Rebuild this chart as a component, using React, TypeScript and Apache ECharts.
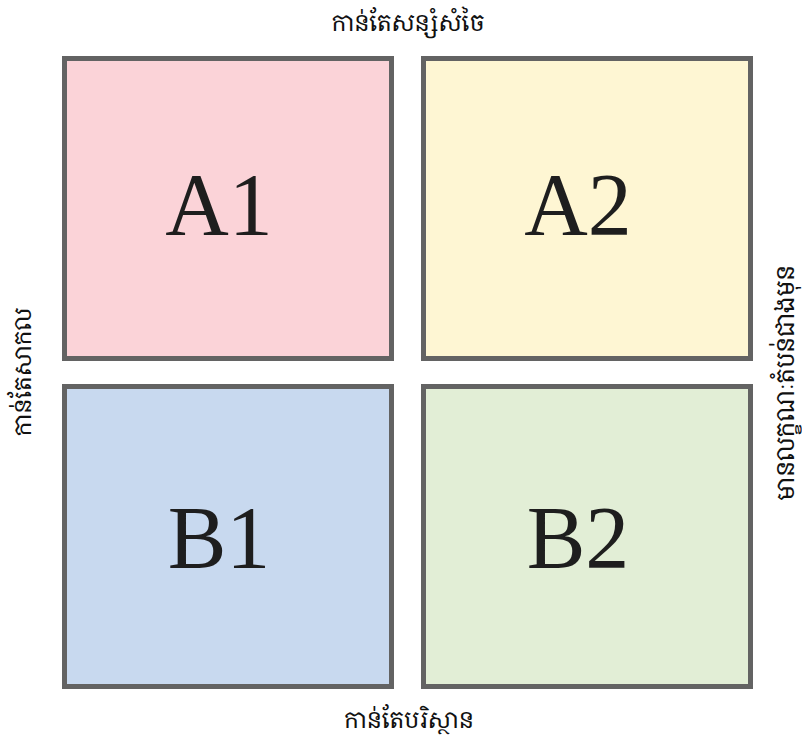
import React, { useEffect, useRef } from "react";
import * as echarts from "echarts";

const columns = ["សាកល", "មានលក្ខណៈតំបន់ជាងមុន"];
const rows = ["កាន់តែសន្សំសំចៃ", "កាន់តែបរិស្ថាន"];
const scenarios = ["A1", "A2", "B1", "B2"];
const scenarioCol = [0, 1, 0, 1];
const scenarioRow = [0, 0, 1, 1];
const palette = ["#fbd3d8", "#fef6d3", "#c8d9ef", "#e2eed6"];

const topLabel = "កាន់តែសន្សំសំចៃ";
const bottomLabel = "កាន់តែបរិស្ថាន";
const leftLabel = "កាន់តែសាកល";
const rightLabel = "មានលក្ខណៈតំបន់ជាងមុន";

const khmerFont = "'Noto Serif Khmer', 'Khmer OS', 'Khmer OS System', 'Hanuman', 'Noto Sans Khmer', sans-serif";

export default function App() {
  const ref = useRef<HTMLDivElement>(null);
  useEffect(() => {
    document.body.style.margin = "0";
    const chart = echarts.init(ref.current!, null, { renderer: "svg" });
    const data = scenarios.map((name, i) => [scenarioCol[i], scenarioRow[i], name, i]);
    chart.setOption({
      animation: false,
      backgroundColor: "#ffffff",
      grid: { left: 48.5, top: 44.5, width: 718, height: 656 },
      xAxis: {
        type: "category",
        data: columns,
        show: false,
      },
      yAxis: {
        type: "category",
        data: rows,
        inverse: true,
        show: false,
      },
      series: [
        {
          type: "custom",
          data,
          renderItem: (params: any, api: any) => {
            const c = api.coord([api.value(0), api.value(1)]);
            const s = api.size([1, 1]);
            const idx = api.value(3);
            const w = s[0] - 27;
            const h = s[1] - 23;
            const sw = 5;
            const isTop = api.value(1) === 0;
            return {
              type: "group",
              children: [
                {
                  type: "rect",
                  shape: {
                    x: c[0] - w / 2 + sw / 2,
                    y: c[1] - h / 2 + sw / 2,
                    width: w - sw,
                    height: h - sw,
                  },
                  style: { fill: palette[idx], stroke: "#636363", lineWidth: sw },
                },
                {
                  type: "text",
                  x: c[0] - 9,
                  y: c[1] + (isTop ? -4 : 1),
                  style: {
                    text: scenarios[idx],
                    fill: "#1e1e1e",
                    font: "88px 'Liberation Serif', 'Times New Roman', serif",
                    align: "center",
                    verticalAlign: "middle",
                  },
                },
              ],
            };
          },
        },
      ],
      graphic: [
        {
          type: "text",
          x: 408,
          y: 22,
          style: { text: topLabel, font: `23px ${khmerFont}`, fill: "#111111", align: "center", verticalAlign: "middle" },
        },
        {
          type: "text",
          x: 409,
          y: 719,
          style: { text: bottomLabel, font: `23px ${khmerFont}`, fill: "#111111", align: "center", verticalAlign: "middle" },
        },
        {
          type: "text",
          x: 22,
          y: 372,
          rotation: Math.PI / 2,
          style: { text: leftLabel, font: `23px ${khmerFont}`, fill: "#111111", align: "center", verticalAlign: "middle" },
        },
        {
          type: "text",
          x: 784,
          y: 383,
          rotation: Math.PI / 2,
          style: { text: rightLabel, font: `24px ${khmerFont}`, fill: "#111111", align: "center", verticalAlign: "middle" },
        },
      ],
    });
    return () => chart.dispose();
  }, []);
  return (
    <div
      ref={ref}
      style={{ position: "absolute", left: 0, top: 0, width: 802, height: 738 }}
    />
  );
}
